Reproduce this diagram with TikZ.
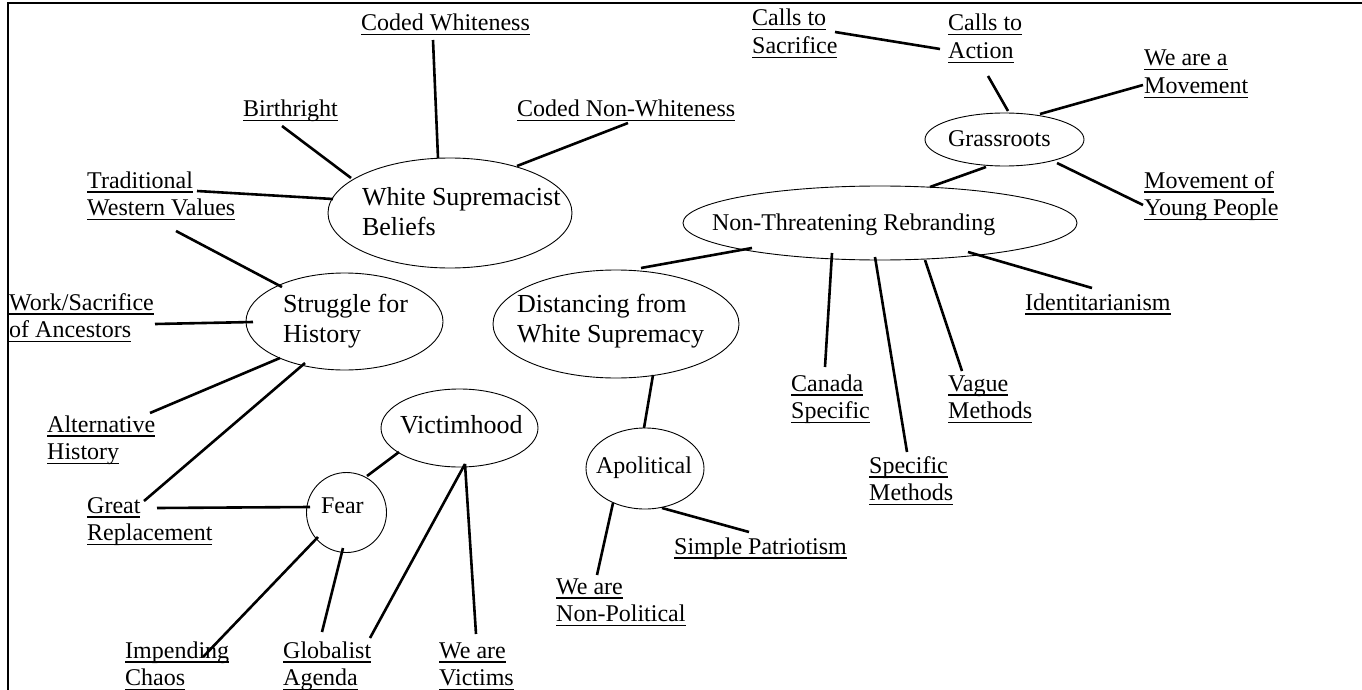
\documentclass[tikz,border=0pt]{standalone}
\usepackage{fontspec}
\setmainfont{Liberation Serif}
\usetikzlibrary{shapes.geometric}
\newcommand\ulx[1]{\setbox0\hbox{#1}\rlap{\rule[-4.5pt]{\wd0}{1.3pt}}\box0}
\newcommand\lbltwo[2]{\vtop{\baselineskip=27.5pt\hbox{\ulx{#1}}\hbox{\ulx{#2}}}}
\newcommand\etxt[3]{\rlap{\hspace*{#1}\smash{\raisebox{#2}{#3}}}}
\newcommand\etwo[2]{\vtop{\baselineskip=30.5pt\hbox{#1}\hbox{#2}}}
\begin{document}
\begin{tikzpicture}[x=1pt,y=-1pt,
  conn/.style={line width=2.6pt},
  ell/.style={draw,ellipse,inner sep=0pt,line width=0.9pt},
  big/.style={font=\fontsize{26}{31}\selectfont},
  small/.style={font=\fontsize{24}{28}\selectfont},
  lbl/.style={anchor=base west,inner sep=0pt,font=\fontsize{24}{28}\selectfont}]
\useasboundingbox (0,0) rectangle (1362,690);
\draw[line width=2pt] (8,690) -- (8,3) -- (1362,3);

% ellipses
\node[ell,big,minimum width=244pt,minimum height=110pt] (wsb) at (450,213)
  {\etxt{-88pt}{8pt}{\etwo{White Supremacist}{Beliefs}}};
\node[ell,big,minimum width=197pt,minimum height=97pt] (sfh) at (344.5,321.5)
  {\etxt{-61.5pt}{9.5pt}{\etwo{Struggle for}{History}}};
\node[ell,big,minimum width=246pt,minimum height=108pt] (dws) at (616,324)
  {\etxt{-99pt}{12pt}{\etwo{Distancing from}{White Supremacy}}};
\node[ell,big,minimum width=157pt,minimum height=78pt] (vic) at (459.5,428)
  {\etxt{-59.5pt}{-5pt}{Victimhood}};
\node[ell,small,minimum width=394pt,minimum height=74pt] (ntr) at (880,223)
  {\etxt{-168pt}{-7pt}{Non-Threatening Rebranding}};
\node[ell,small,minimum width=159pt,minimum height=53pt] (grs) at (1004.5,139.5)
  {\etxt{-56.5pt}{-6.5pt}{Grassroots}};
\node[ell,small,minimum width=118pt,minimum height=81pt] (apo) at (645,468.5)
  {\etxt{-49pt}{-4.5pt}{Apolitical}};
\node[ell,small,minimum width=80pt,minimum height=80pt] (fear) at (346.5,512.5)
  {\etxt{-25.5pt}{-0.5pt}{Fear}};

% labels
\node[lbl] (cw) at (361,31) {\ulx{Coded Whiteness}};
\node[lbl] (br) at (243,117) {\ulx{Birthright}};
\node[lbl] (cnw) at (517,117) {\ulx{Coded Non-Whiteness}};
\node[lbl] (tw) at (87,188) {\lbltwo{Traditional}{Western Values}};
\node[lbl] (wsa) at (9,310) {\lbltwo{Work/Sacrifice}{of Ancestors}};
\node[lbl] (alt) at (47,432) {\lbltwo{Alternative}{History}};
\node[lbl] (gr) at (87,513) {\lbltwo{Great}{Replacement}};
\node[lbl] (ic) at (125,658) {\lbltwo{Impending}{Chaos}};
\node[lbl] (ga) at (283,658) {\lbltwo{Globalist}{Agenda}};
\node[lbl] (wv) at (439,658) {\lbltwo{We are}{Victims}};
\node[lbl] (wnp) at (556,594) {\lbltwo{We are}{Non-Political}};
\node[lbl] (sp) at (674,554) {\ulx{Simple Patriotism}};
\node[lbl] (cs) at (791,391) {\lbltwo{Canada}{Specific}};
\node[lbl] (sm) at (869,473) {\lbltwo{Specific}{Methods}};
\node[lbl] (vm) at (948,391) {\lbltwo{Vague}{Methods}};
\node[lbl] (id) at (1025,310) {\ulx{Identitarianism}};
\node[lbl] (cts) at (752,26) {\lbltwo{Calls to}{Sacrifice}};
\node[lbl] (cta) at (948,31) {\lbltwo{Calls to}{Action}};
\node[lbl] (wam) at (1144,66) {\lbltwo{We are a}{Movement}};
\node[lbl] (myp) at (1144,188) {\lbltwo{Movement of}{Young People}};

% connectors
\draw[conn] ([shift={(72,9)}]cw.base west) -- ([shift={(-12,-55)}]wsb.center);
\draw[conn] ([shift={(39,9)}]br.base west) -- ([shift={(-99,-35)}]wsb.center);
\draw[conn] ([shift={(111,6)}]cnw.base west) -- ([shift={(67,-47)}]wsb.center);
\draw[conn] ([shift={(110,3)}]tw.base west) -- ([shift={(-117,-14)}]wsb.center);
\draw[conn] ([shift={(89,43)}]tw.base west) -- ([shift={(-62.5,-34.5)}]sfh.center);
\draw[conn] ([shift={(146,14)}]wsa.base west) -- ([shift={(-91.5,0.5)}]sfh.center);
\draw[conn] ([shift={(103,-19)}]alt.base west) -- ([shift={(-64.5,36.5)}]sfh.center);
\draw[conn] ([shift={(57,-12)}]gr.base west) -- ([shift={(-39.5,41.5)}]sfh.center);
\draw[conn] ([shift={(70,-5)}]gr.base west) -- ([shift={(-36.5,-5.5)}]fear.center);
\draw[conn] ([shift={(20.5,-36.5)}]fear.center) -- ([shift={(-60.5,24)}]vic.center);
\draw[conn] ([shift={(-28.5,24.5)}]fear.center) -- ([shift={(78,-1)}]ic.base west);
\draw[conn] ([shift={(-3.5,35.5)}]fear.center) -- ([shift={(39,-26)}]ga.base west);
\draw[conn] ([shift={(5.5,36)}]vic.center) -- ([shift={(87,-20)}]ga.base west);
\draw[conn] ([shift={(5.5,36)}]vic.center) -- ([shift={(37,-24)}]wv.base west);
\draw[conn] ([shift={(37,51)}]dws.center) -- ([shift={(-1,-40.5)}]apo.center);
\draw[conn] ([shift={(25,-56)}]dws.center) -- ([shift={(-128,25)}]ntr.center);
\draw[conn] ([shift={(-32,34.5)}]apo.center) -- ([shift={(41,-19)}]wnp.base west);
\draw[conn] ([shift={(17,39.5)}]apo.center) -- ([shift={(75,-22)}]sp.base west);
\draw[conn] ([shift={(-48,30)}]ntr.center) -- ([shift={(34,-24)}]cs.base west);
\draw[conn] ([shift={(-5,34)}]ntr.center) -- ([shift={(38,-21)}]sm.base west);
\draw[conn] ([shift={(45,37)}]ntr.center) -- ([shift={(14,-20)}]vm.base west);
\draw[conn] ([shift={(88,29)}]ntr.center) -- ([shift={(67,-22)}]id.base west);
\draw[conn] ([shift={(50,-36)}]ntr.center) -- ([shift={(-18.5,27.5)}]grs.center);
\draw[conn] ([shift={(3.5,-28.5)}]grs.center) -- ([shift={(40,45)}]cta.base west);
\draw[conn] ([shift={(83,6)}]cts.base west) -- ([shift={(-8,18)}]cta.base west);
\draw[conn] ([shift={(35.5,-25.5)}]grs.center) -- ([shift={(-1,19)}]wam.base west);
\draw[conn] ([shift={(52.5,23.5)}]grs.center) -- ([shift={(-1,17)}]myp.base west);
\end{tikzpicture}
\end{document}
